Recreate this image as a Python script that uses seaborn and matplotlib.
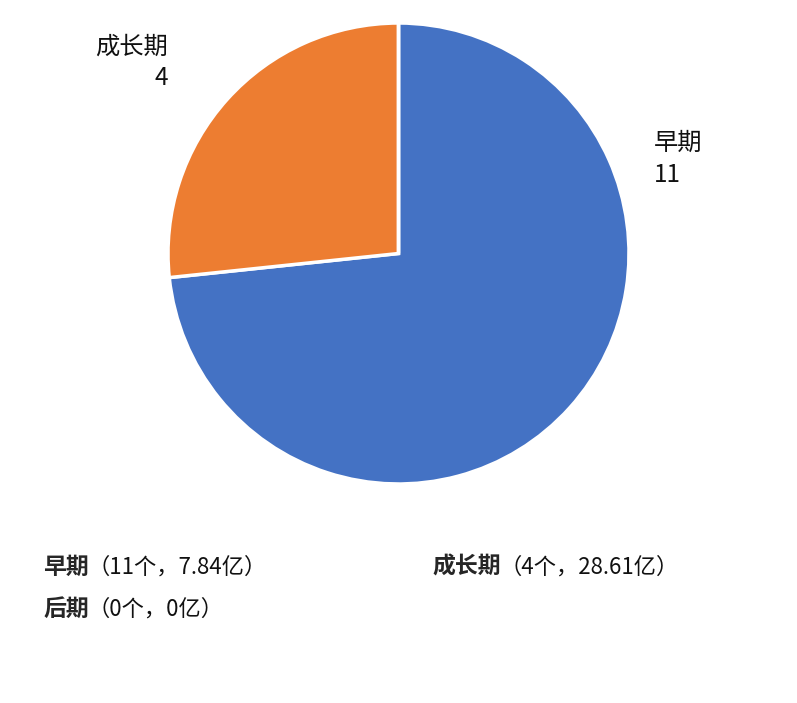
import matplotlib.pyplot as plt
import seaborn as sns

stages = ['早期', '成长期', '后期']
counts = [11, 4, 0]
amounts = ['7.84', '28.61', '0']
colors = ['#4472C4', '#ED7D31', '#A5A5A5']

sns.set_theme(style='white')
plt.rcParams['font.family'] = ['Noto Sans CJK SC', 'DejaVu Sans']

fig = plt.figure(figsize=(7.97, 7.03), dpi=100)
ax = fig.add_axes([0.2108, 0.3115, 0.5784, 0.6558])

wedges, _ = ax.pie(counts, colors=colors, startangle=90, counterclock=False,
                   radius=1, wedgeprops=dict(edgecolor='white', linewidth=2.5))
ax.set_xlim(-1, 1)
ax.set_ylim(-1, 1)
ax.set_aspect('equal')

# slice labels (name + count) outside the pie
ax.text(1.11, 0.41, f'{stages[0]}\n{counts[0]}', ha='left', va='center',
        fontsize=17.5, linespacing=1.3, color='#111111')
ax.text(-1.0, 0.83, f'{stages[1]}\n{counts[1]}', ha='right', va='center',
        fontsize=17.5, linespacing=1.3, color='#111111', multialignment='right')

# legend-like summary text at the bottom: bold name + regular detail
fig.canvas.draw()
renderer = fig.canvas.get_renderer()
spots = [(43, 567), (432, 567), (43, 609)]
for name, n, amt, (px, py) in zip(stages, counts, amounts, spots):
    x = px / 797
    y = 1 - py / 703
    t = fig.text(x, y, name, fontsize=16.5, fontweight='bold', va='center', ha='left')
    bb = t.get_window_extent(renderer)
    fig.text(bb.x1 / 797 - 0.002, y, f'（{n}个，{amt}亿）', fontsize=16,
             va='center', ha='left', color='#111111')

fig.savefig('out.png', dpi=100)
